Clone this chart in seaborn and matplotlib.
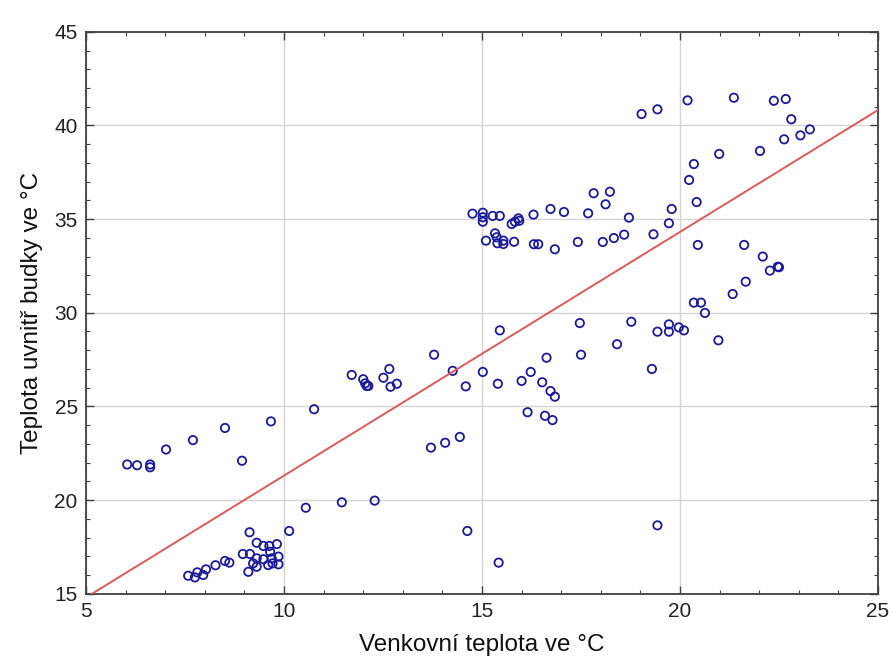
import numpy as np
import pandas as pd
import matplotlib
matplotlib.use("Agg")
import matplotlib.pyplot as plt
from matplotlib.ticker import MultipleLocator
import seaborn as sns

# Outdoor temperature (°C) and temperature inside the box (°C)
venkovni = [
    # cooler days, upper group
    6.04, 6.29, 6.62, 6.62, 7.02, 7.70, 8.51, 8.94, 9.67, 10.76,
    # cool evenings, lower cluster
    7.58, 7.75, 7.81, 7.96, 8.03, 8.27, 8.51, 8.62, 8.96, 9.10,
    9.13, 9.14, 9.22, 9.31, 9.31, 9.31, 9.48, 9.48, 9.60, 9.63,
    9.65, 9.69, 9.71, 9.82, 9.86, 9.86,
    10.13, 10.55, 11.46, 12.29,
    # mid range
    11.71, 12.00, 12.05, 12.09, 12.13, 12.51, 12.66, 12.69, 12.85,
    13.79, 14.26, 14.59, 13.71, 14.07, 14.44,
    15.02, 15.40, 16.00, 16.23, 16.63, 16.52, 16.73, 16.84,
    16.15, 16.59, 16.78, 17.50, 15.45,
    17.47, 18.41, 18.77, 19.29, 19.43, 19.72, 19.72, 19.97, 20.10,
    20.35, 20.53, 20.63, 20.97, 21.33, 21.66,
    21.62, 22.09, 22.27, 22.47, 22.50,
    # warm afternoons, upper cluster
    14.76, 15.02, 15.02, 15.02, 15.27, 15.45, 15.75, 15.83, 15.92, 15.94,
    16.30, 16.73, 17.07, 17.68, 18.12, 18.71, 17.82, 18.23,
    15.10, 15.33, 15.37, 15.39, 15.54, 15.54, 15.81, 16.31, 16.42, 16.84,
    17.42, 18.05, 18.33, 18.59, 19.33, 19.72, 19.79, 20.23, 20.42, 20.45,
    # hottest days
    19.03, 19.43, 20.19, 21.36, 22.37, 22.67, 22.81, 23.28, 23.04, 22.63,
    22.02, 20.99, 20.35,
    # isolated readings
    14.63, 15.42, 19.43,
]
uvnitr = [
    21.90, 21.86, 21.90, 21.75, 22.70, 23.20, 23.85, 22.10, 24.20, 24.85,
    15.96, 15.87, 16.14, 16.00, 16.30, 16.52, 16.75, 16.66, 17.12, 16.17,
    18.28, 17.12, 16.62, 17.72, 16.89, 16.44, 17.55, 16.84, 16.53, 17.55,
    17.24, 16.89, 16.62, 17.65, 16.98, 16.57,
    18.35, 19.59, 19.88, 19.97,
    26.68, 26.45, 26.23, 26.09, 26.09, 26.53, 27.00, 26.05, 26.21,
    27.76, 26.90, 26.07, 22.80, 23.06, 23.37,
    26.84, 26.21, 26.36, 26.84, 27.60, 26.29, 25.82, 25.52,
    24.69, 24.50, 24.27, 27.76, 29.06,
    29.45, 28.32, 29.52, 27.00, 28.99, 29.38, 28.99, 29.22, 29.06,
    30.54, 30.54, 29.99, 28.53, 31.00, 31.66,
    33.62, 33.00, 32.25, 32.46, 32.43,
    35.29, 35.34, 35.10, 34.86, 35.17, 35.17, 34.74, 34.86, 35.04, 34.91,
    35.24, 35.54, 35.38, 35.31, 35.79, 35.08, 36.38, 36.46,
    33.85, 34.24, 34.03, 33.71, 33.85, 33.67, 33.79, 33.66, 33.66, 33.39,
    33.78, 33.78, 33.99, 34.17, 34.19, 34.78, 35.54, 37.09, 35.91, 33.62,
    40.61, 40.86, 41.34, 41.48, 41.32, 41.41, 40.33, 39.79, 39.47, 39.26,
    38.64, 38.48, 37.94,
    18.35, 16.66, 18.65,
]

x_ticks = [5, 10, 15, 20, 25]
y_ticks = [15, 20, 25, 30, 35, 40, 45]
x_label = "Venkovní teplota ve °C"
y_label = "Teplota uvnitř budky ve °C"

df = pd.DataFrame({"venkovni": venkovni, "uvnitr": uvnitr})

sns.set_theme(style="white")
plt.rcParams["font.family"] = ["Liberation Sans", "DejaVu Sans"]

fig = plt.figure(figsize=(8.94, 6.68), dpi=100)
ax = fig.add_axes([0.0962, 0.1112, 0.8859, 0.8412])

ax.set_xlim(x_ticks[0], x_ticks[-1])
ax.set_ylim(y_ticks[0], y_ticks[-1])
ax.set_xticks(x_ticks)
ax.set_yticks(y_ticks)
ax.xaxis.set_minor_locator(MultipleLocator(1))
ax.yaxis.set_minor_locator(MultipleLocator(1))
ax.grid(True, which="major", color="#d4d4d4", linewidth=1.0)
ax.set_axisbelow(True)

sns.scatterplot(data=df, x="venkovni", y="uvnitr", ax=ax, marker="o", s=36,
                facecolor="none", edgecolor="#1a1a9c", linewidth=1.3,
                zorder=3)
ax.collections[0].set_facecolor("none")

# least-squares line across the whole axis range
sns.regplot(data=df, x="venkovni", y="uvnitr", ax=ax, scatter=False,
            ci=None, truncate=False,
            line_kws={"color": "#de5a5a", "linewidth": 1.4, "zorder": 4})

ax.set_xlim(x_ticks[0], x_ticks[-1])
ax.set_ylim(y_ticks[0], y_ticks[-1])

for side in ["left", "bottom", "right", "top"]:
    ax.spines[side].set_visible(True)
    ax.spines[side].set_color("#404040")
    ax.spines[side].set_linewidth(1.3)

ax.tick_params(which="both", direction="in", top=True, right=True,
               bottom=True, left=True, color="#404040")
ax.tick_params(which="major", length=6, width=1.0, labelsize=15,
               labelcolor="#222222", pad=6)
ax.tick_params(which="minor", length=3, width=0.8)

ax.set_xlabel(x_label, fontsize=17.5, color="#111111", labelpad=9)
ax.set_ylabel(y_label, fontsize=17.5, color="#111111", labelpad=8)

fig.savefig("out.png", dpi=100)
